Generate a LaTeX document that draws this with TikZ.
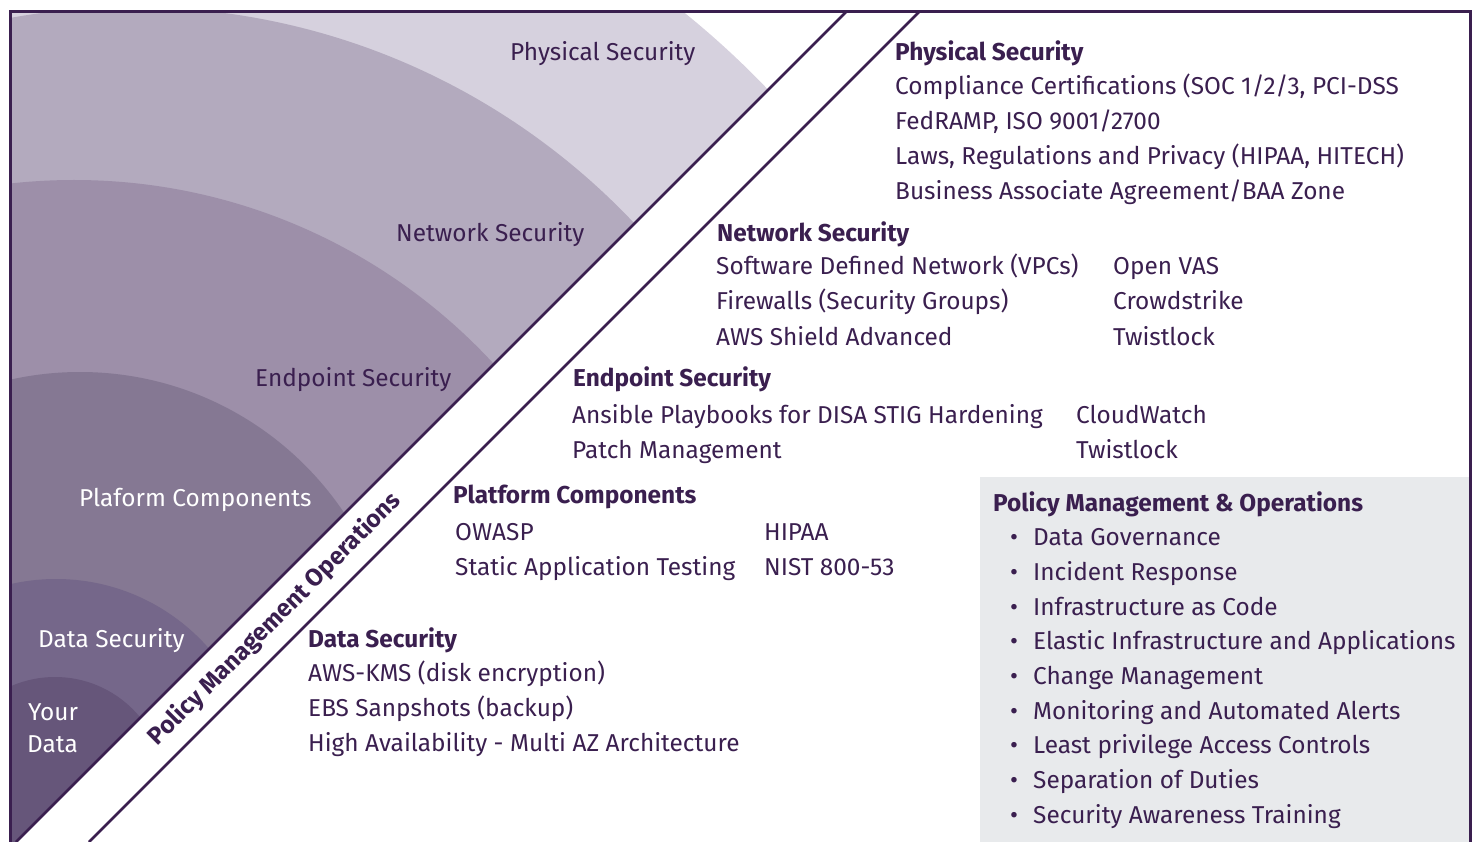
\documentclass[tikz,border=0pt]{standalone}
\usepackage{fontspec}
\setmainfont{Fira Sans}

\definecolor{ink}{HTML}{3A1F4F}
\definecolor{ringphys}{HTML}{D6D1DE}
\definecolor{ringnet}{HTML}{B3AABE}
\definecolor{ringend}{HTML}{9D8FA9}
\definecolor{ringplat}{HTML}{857893}
\definecolor{ringdata}{HTML}{75678A}
\definecolor{ringyour}{HTML}{66567A}
\definecolor{boxgray}{HTML}{E8EAEC}

\tikzset{
    lbl/.style={anchor=base west, inner sep=0pt, text=ink, font=\fontsize{24.4}{30}\selectfont},
    head/.style={lbl, font=\fontsize{24.4}{30}\selectfont\bfseries},
    lblw/.style={lbl, text=white},
    edge/.style={ink, line width=2.5pt},
}

\begin{document}
\begin{tikzpicture}[x=1pt, y=-1pt]
    \useasboundingbox (0,0) rectangle (1478,842);

    \coordinate (frameBL) at (10,842);
    \coordinate (frameTL) at (10,12);
    \coordinate (frameTR) at (1470,12);
    \coordinate (frameBR) at (1470,842);
    \coordinate (bandinB) at (16,842);
    \coordinate (bandinT) at (846,12);
    \coordinate (bandoutB) at (89,842);
    \coordinate (bandoutT) at (919,12);

    \fill[boxgray] (980,477) rectangle (frameBR);

    \begin{scope}
    \clip (frameTL) -- (bandinT) -- (bandinB) -- (frameBL) -- cycle;
    \fill[ringphys] (133,696) circle[radius=878pt];
    \fill[ringnet]  (133,696) circle[radius=689pt];
    \fill[ringend]  (74,751)  circle[radius=571pt];
    \fill[ringplat] (80,690)  circle[radius=318pt];
    \fill[ringdata] (56,782)  circle[radius=203pt];
    \fill[ringyour] (55,787)  circle[radius=110pt];
    \end{scope}

    \draw[ink, line width=3pt] (frameBL) -- (frameTL) -- (frameTR) -- (frameBR);
    \draw[edge] (bandinB) -- (bandinT);
    \draw[edge] (bandoutB) -- (bandoutT);

    \node[head, anchor=center, rotate=45] (pmo) at (275,619) {Policy Management Operations};

    % ring labels
    \node[lbl]  (lphys) at (510,61)  {Physical Security};
    \node[lbl]  (lnet)  at (396,242) {Network Security};
    \node[lbl]  (lend)  at (255,386) {Endpoint Security};
    \node[lblw] (lplat) at (79,506)  {Plaform Components};
    \node[lblw] (ldata) at (38,647)  {Data Security};
    \node[lblw] (lyour) at (28,720)  {Your};
    \node[lblw] (lyourb) at (27,752) {Data};

    % physical
    \node[head] (physhead) at (895,61) {Physical Security};
    \foreach \txt [count=\i] in {{Compliance Certifications (SOC 1/2/3, PCI-DSS},
        {FedRAMP, ISO 9001/2700},
        {Laws, Regulations and Privacy (HIPAA, HITECH)},
        {Business Associate Agreement/BAA Zone}}
        \node[lbl] (phys\i) at (895,{60+35*\i}) {\txt};

    % network
    \node[head] (nethead) at (717,242) {Network Security};
    \foreach \txt [count=\i] in {{Software Defined Network (VPCs)},
        {Firewalls (Security Groups)}, {AWS Shield Advanced}}
        \node[lbl] (net\i) at (716,{240+35*\i}) {\txt};
    \foreach \txt [count=\i] in {Open VAS, Crowdstrike, Twistlock}
        \node[lbl] (netb\i) at (1113,{240+35*\i}) {\txt};

    % endpoint
    \node[head] (endhead) at (573,386) {Endpoint Security};
    \node[lbl] (end1) at (572,423) {Ansible Playbooks for DISA STIG Hardening};
    \node[lbl] (end2) at (572,458) {Patch Management};
    \node[lbl] (endb1) at (1076,423) {CloudWatch};
    \node[lbl] (endb2) at (1076,458) {Twistlock};

    % platform
    \node[head] (plathead) at (453,503) {Platform Components};
    \node[lbl] (plat1) at (455,540) {OWASP};
    \node[lbl] (plat2) at (455,575) {Static Application Testing};
    \node[lbl] (platb1) at (764,540) {HIPAA};
    \node[lbl] (platb2) at (764,575) {NIST 800-53};

    % data
    \node[head] (datahead) at (308,647) {Data Security};
    \foreach \txt [count=\i] in {{AWS-KMS (disk encryption)},
        {EBS Sanpshots (backup)}, {High Availability - Multi AZ Architecture}}
        \node[lbl] (data\i) at (308,{646+35*\i}) {\txt};

    % policy
    \node[head] (polhead) at (993,511) {Policy Management \& Operations};
    \foreach \txt [count=\i] in {Data Governance, Incident Response,
        Infrastructure as Code, Elastic Infrastructure and Applications,
        Change Management, Monitoring and Automated Alerts,
        Least privilege Access Controls, Separation of Duties,
        Security Awareness Training}
    {
        \node[lbl] (bul\i) at (1010,{511+34.7*\i}) {\textbullet};
        \node[lbl] (pol\i) at (1033,{511+34.7*\i}) {\txt};
    }
\end{tikzpicture}
\end{document}
